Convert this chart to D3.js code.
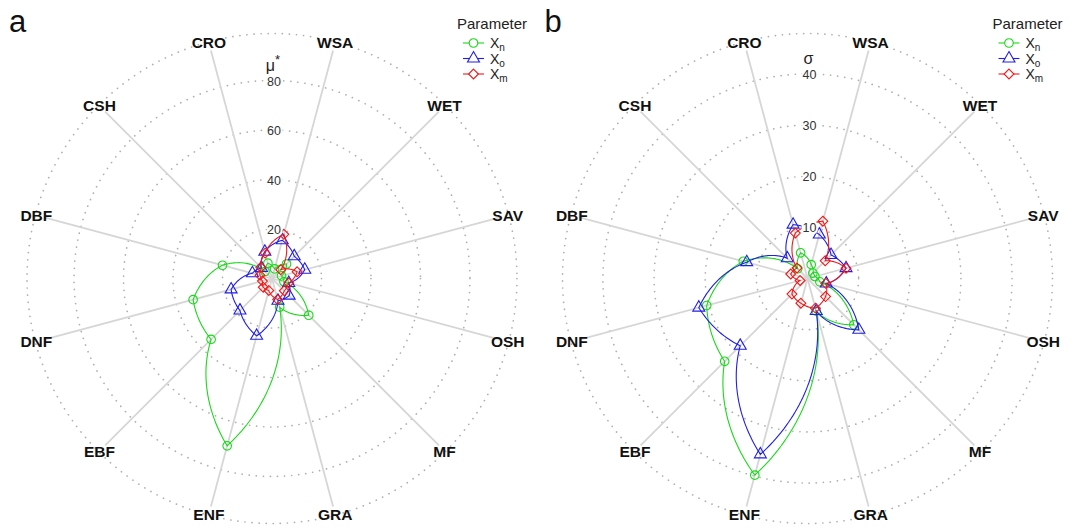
<!DOCTYPE html>
<html>
<head>
<meta charset="utf-8">
<script src="https://cdn.jsdelivr.net/npm/d3@7"></script>
<style>
  body { margin: 0; background: #fff; }
  svg { display: block; font-family: "Liberation Sans", Arial, sans-serif; }
</style>
</head>
<body>
<svg id="chart" width="1075" height="529"></svg>
<script>
// categories go clockwise, CRO sits just left of 12 o'clock
const categories = ["CRO", "WSA", "WET", "SAV", "OSH", "MF", "GRA", "ENF", "EBF", "DNF", "DBF", "CSH"];

// panel a : mu*
const muXn = [6.4, 4, 8.3, 4, 5, 21, 12, 70, 34.8, 33, 20.7, 4];
const muXo = [11.2, 16, 12.7, 13.7, 7, 9.8, 9.3, 24, 18.3, 17.1, 8.2, 6];
const muXm = [10.6, 18.5, 5, 10.5, 7, 7, 8.8, 5, 5, 4, 5, 6.4];
const muTicks = [20, 40, 60, 80];
const muMax = 99;

// panel b : sigma
const sdXn = [5.2, 2.8, 1.5, 1.5, 2.5, 12.8, 6.6, 39.8, 22.9, 20.4, 13, 2.7];
const sdXo = [10.9, 8.9, 6.5, 7.8, 3.8, 14.2, 6.6, 35.6, 18.6, 22, 12.3, 5.6];
const sdXm = [9.2, 11.6, 4.9, 7.8, 3.7, 5, 6, 5, 4.3, 1.5, 3.4, 2.9];
const sdTicks = [10, 20, 30, 40];
const sdMax = 47.9;

const seriesNames = ["n", "o", "m"];
const seriesColors = ["#19d919", "#1f1fe6", "#f01818"];
const seriesSymbols = [d3.symbolCircle, d3.symbolTriangle, d3.symbolDiamond2];
const symbolSizes = [58, 62, 62];

const svg = d3.select("#chart");
const outerR = 245;

const angle = d3.scaleLinear()
  .domain([0, categories.length])
  .range([-Math.PI / 12, 2 * Math.PI - Math.PI / 12]);

// polar-coordinate lines: straight in (angle, value) space, so each
// segment between two spokes becomes a spiral piece (like coord_polar)
const polarPath = vals => {
  const n = vals.length, steps = 40, out = [];
  for (let i = 0; i < n; i++) {
    const v = d3.interpolateNumber(vals[i], vals[(i + 1) % n]);
    const a = d3.interpolateNumber(angle(i), angle(i + 1));
    d3.range(steps).forEach(s => out.push({ a: a(s / steps), v: v(s / steps) }));
  }
  return out;
};

const drawPanel = (cx, cy, props) => {
  const { letter, title, ticks, rMax, series } = props;
  const g = svg.append("g").attr("transform", `translate(${cx},${cy})`);
  const r = d3.scaleLinear().domain([0, rMax]).range([0, outerR]);

  // dotted grid circles
  g.selectAll(".grid").data([...ticks, rMax]).enter().append("circle")
    .attr("class", "grid")
    .attr("r", d => r(d))
    .attr("fill", "none")
    .attr("stroke", "#b0b0b0")
    .attr("stroke-width", 1.7)
    .attr("stroke-linecap", "round")
    .attr("stroke-dasharray", "0.1 7");

  // spokes
  g.selectAll(".spoke").data(categories).enter().append("line")
    .attr("class", "spoke")
    .attr("x1", 0).attr("y1", 0)
    .attr("x2", (d, i) => Math.sin(angle(i)) * 236)
    .attr("y2", (d, i) => -Math.cos(angle(i)) * 236)
    .attr("stroke", "#d6d6d6")
    .attr("stroke-width", 1.8);

  // category labels
  g.selectAll(".cat").data(categories).enter().append("text")
    .attr("class", "cat")
    .attr("x", (d, i) => Math.sin(angle(i)) * 244)
    .attr("y", (d, i) => -Math.cos(angle(i)) * 244)
    .attr("text-anchor", "middle")
    .attr("dominant-baseline", "central")
    .attr("font-size", 15.5)
    .attr("font-weight", "bold")
    .attr("fill", "#111")
    .text(d => d);

  // series lines + markers
  const line = d3.lineRadial()
    .angle(d => d.a)
    .radius(d => r(d.v))
    .curve(d3.curveLinearClosed);

  series.forEach((vals, k) => {
    g.append("path")
      .attr("d", line(polarPath(vals)))
      .attr("fill", "none")
      .attr("stroke", seriesColors[k])
      .attr("stroke-width", 1.1);
    g.selectAll(".pt" + k).data(vals).enter().append("path")
      .attr("class", "pt" + k)
      .attr("transform", (d, i) => `translate(${Math.sin(angle(i)) * r(d)},${-Math.cos(angle(i)) * r(d)})`)
      .attr("d", d3.symbol().type(seriesSymbols[k]).size(symbolSizes[k]))
      .attr("fill", "none")
      .attr("stroke", seriesColors[k])
      .attr("stroke-width", 1.1);
  });

  // radial tick labels, boxed on top of everything
  g.selectAll(".tick").data(ticks).enter().append("text")
    .attr("class", "tick")
    .attr("x", 2)
    .attr("y", d => -r(d) + 1)
    .attr("text-anchor", "middle")
    .attr("dominant-baseline", "central")
    .attr("font-size", 12.5)
    .attr("fill", "#333")
    .attr("stroke", "#fff")
    .attr("stroke-width", 4)
    .attr("paint-order", "stroke")
    .text(d => d);

  const t = g.append("text")
    .attr("x", 1)
    .attr("y", -r(ticks[ticks.length - 1]) - 16)
    .attr("text-anchor", "middle")
    .attr("dominant-baseline", "central")
    .attr("font-size", 16)
    .attr("fill", "#222");
  t.append("tspan").text(title[0]);
  if (title[1]) t.append("tspan").attr("dy", -6).attr("font-size", 13).text(title[1]);

  // panel letter
  svg.append("text")
    .attr("x", cx - 263)
    .attr("y", 32)
    .attr("font-size", 31)
    .attr("fill", "#111")
    .text(letter);

  // legend
  const lg = svg.append("g").attr("transform", `translate(${cx + 220},0)`);
  lg.append("text")
    .attr("x", 0).attr("y", 23)
    .attr("text-anchor", "middle")
    .attr("dominant-baseline", "central")
    .attr("font-size", 15)
    .attr("fill", "#222")
    .text("Parameter");
  seriesNames.forEach((s, k) => {
    const y = 43 + k * 15.5;
    lg.append("line")
      .attr("x1", -29).attr("x2", -8)
      .attr("y1", y).attr("y2", y)
      .attr("stroke", seriesColors[k])
      .attr("stroke-width", 1.1);
    lg.append("path")
      .attr("transform", `translate(-18.5,${y})`)
      .attr("d", d3.symbol().type(seriesSymbols[k]).size(symbolSizes[k]))
      .attr("fill", "#fff")
      .attr("stroke", seriesColors[k])
      .attr("stroke-width", 1.1);
    const lt = lg.append("text")
      .attr("x", -2).attr("y", y)
      .attr("dominant-baseline", "central")
      .attr("font-size", 14)
      .attr("fill", "#222");
    lt.append("tspan").text("X");
    lt.append("tspan").attr("dy", 4).attr("font-size", 10).text(s);
  });
};

drawPanel(272, 278.5, {
  letter: "a", title: ["\u03bc", "*"], ticks: muTicks, rMax: muMax,
  series: [muXn, muXo, muXm]
});
drawPanel(807.5, 278.5, {
  letter: "b", title: ["\u03c3"], ticks: sdTicks, rMax: sdMax,
  series: [sdXn, sdXo, sdXm]
});
</script>
</body>
</html>
